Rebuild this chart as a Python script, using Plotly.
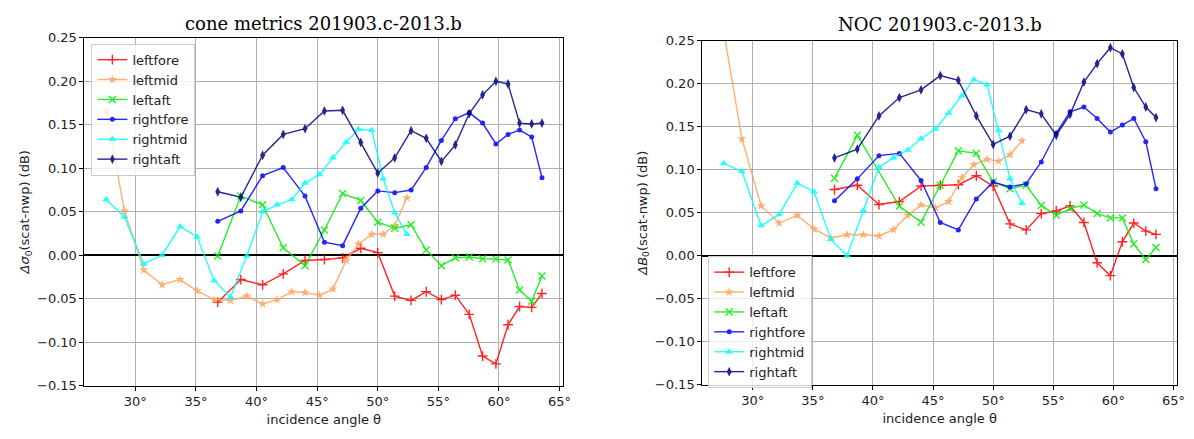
import plotly.graph_objects as go

# Incidence-angle bins (degrees): mid beams and fore/aft beams
mid_theta = [27.6, 29.1, 30.7, 32.2, 33.7, 35.1, 36.5, 37.85, 39.2, 40.5, 41.7,
             42.9, 44.0, 45.2, 46.3, 47.4, 48.4, 49.5, 50.45, 51.4, 52.4]
fa_theta = [36.8, 38.7, 40.5, 42.2, 44.0, 45.6, 47.1, 48.6, 50.0, 51.4, 52.75,
            54.0, 55.25, 56.4, 57.55, 58.65, 59.75, 60.75, 61.7, 62.7, 63.55]

# x tick positions and labels
theta_ticks = [30, 35, 40, 45, 50, 55, 60, 65]
theta_labels = ["30°", "35°", "40°", "45°", "50°", "55°", "60°", "65°"]

# cone metrics: delta sigma0 (scat - nwp), dB
cone_leftfore = [-0.054, -0.028, -0.034, -0.0215, -0.006, -0.005, -0.003, 0.008, 0.003, -0.047, -0.052,
                 -0.042, -0.051, -0.046, -0.068, -0.116, -0.125, -0.080, -0.059, -0.060, -0.044]
cone_leftmid = [0.166, 0.051, -0.017, -0.034, -0.028, -0.041, -0.051, -0.052, -0.047, -0.056, -0.051,
                -0.042, -0.043, -0.046, -0.039, -0.006, 0.013, 0.024, 0.024, 0.034, 0.066]
cone_leftaft = [-0.001, 0.068, 0.058, 0.0085, -0.012, 0.029, 0.071, 0.063, 0.038, 0.031, 0.035,
                0.006, -0.012, -0.003, -0.002, -0.004, -0.0045, -0.0055, -0.040, -0.053, -0.024]
cone_rightfore = [0.039, 0.051, 0.0915, 0.1008, 0.068, 0.015, 0.011, 0.054, 0.074, 0.072, 0.075,
                  0.101, 0.132, 0.157, 0.164, 0.152, 0.128, 0.139, 0.144, 0.136, 0.089]
cone_rightmid = [0.064, 0.044, -0.010, 0.000, 0.033, 0.021, -0.029, -0.048, -0.001, 0.050, 0.058,
                 0.064, 0.083, 0.093, 0.112, 0.130, 0.145, 0.144, 0.088, 0.049, 0.024]
cone_rightaft = [0.073, 0.0667, 0.115, 0.139, 0.1456, 0.166, 0.1667, 0.1297, 0.0944, 0.112, 0.1433,
                 0.1345, 0.108, 0.127, 0.163, 0.1845, 0.200, 0.197, 0.152, 0.151, 0.152]

# NOC: delta B0 (scat - nwp), dB
noc_leftfore = [0.077, 0.082, 0.0595, 0.063, 0.081, 0.082, 0.0826, 0.093, 0.081, 0.037, 0.030,
                0.049, 0.052, 0.058, 0.0387, -0.0082, -0.0232, 0.0162, 0.038, 0.0286, 0.0248]
noc_leftmid = [0.26, 0.136, 0.058, 0.038, 0.047, 0.031, 0.0207, 0.0244, 0.0244, 0.023, 0.0304,
               0.047, 0.059, 0.0556, 0.063, 0.091, 0.106, 0.112, 0.110, 0.1175, 0.1337]
noc_leftaft = [0.090, 0.140, None, 0.0574, 0.039, 0.082, 0.122, 0.119, 0.086, 0.078, 0.082,
               0.0585, 0.047, 0.0548, 0.059, 0.049, 0.044, 0.044, 0.0135, -0.0045, 0.0095]
noc_rightfore = [0.0638, 0.0894, 0.1164, 0.119, 0.0875, 0.0387, 0.030, 0.066, 0.0856, 0.080, 0.0838,
                 0.109, 0.1427, 0.1675, 0.173, 0.1596, 0.1438, 0.152, 0.1596, 0.1326, 0.078]
noc_rightmid = [0.1074, 0.098, 0.035, 0.048, 0.0845, 0.0743, 0.019, 0.000, 0.0526, 0.103, 0.114,
                0.123, 0.136, 0.1475, 0.166, 0.186, 0.205, 0.199, 0.1457, 0.0894, 0.061]
noc_rightaft = [0.1137, 0.124, 0.1626, 0.184, 0.193, 0.2095, 0.204, 0.1626, 0.1295, 0.139, 0.170,
                0.165, 0.140, 0.1645, 0.202, 0.2234, 0.242, 0.2347, 0.1956, 0.173, 0.1607]

beam_names = ["leftfore", "leftmid", "leftaft", "rightfore", "rightmid", "rightaft"]
beam_theta = [fa_theta, mid_theta, fa_theta, fa_theta, mid_theta, fa_theta]
beam_colors = ["#ff0000", "#ffa35a", "#00ee00", "#0000ff", "#00ffff", "#000080"]
beam_symbols = ["cross-thin", "star", "x-thin", "circle", "triangle-up", "diamond-tall"]
beam_sizes = [7, 7, 7, 5, 7, 7]

cone_series = [cone_leftfore, cone_leftmid, cone_leftaft, cone_rightfore, cone_rightmid, cone_rightaft]
noc_series = [noc_leftfore, noc_leftmid, noc_leftaft, noc_rightfore, noc_rightmid, noc_rightaft]

W, H = 1194, 439
fig = go.Figure()

for series, xa, ya, leg in [(cone_series, "x", "y", "legend"),
                            (noc_series, "x2", "y2", "legend2")]:
    for name, th, vals, col, sym, sz in zip(beam_names, beam_theta, series,
                                            beam_colors, beam_symbols, beam_sizes):
        thin = sym.endswith("-thin")
        fig.add_trace(go.Scatter(
            x=th, y=vals, name=name, mode="lines+markers",
            xaxis=xa, yaxis=ya, legend=leg, connectgaps=True, opacity=0.85,
            line=dict(color=col, width=1.4),
            marker=dict(symbol=sym, size=sz, color=col,
                        line=dict(color=col, width=1.4 if thin else 0)),
        ))


def px_x(p):
    return p / W


def px_y(p):
    return 1 - p / H


axis_font = dict(family="DejaVu Sans", size=13, color="#222222")
common_x = dict(range=[25.8, 65.3], tickmode="array", tickvals=theta_ticks, ticktext=theta_labels,
                showgrid=True, gridcolor="#b0b0b0", gridwidth=1, zeroline=False,
                showline=True, linecolor="black", linewidth=1, mirror=True,
                ticks="outside", ticklen=4, tickcolor="black", tickfont=axis_font,
                title=dict(text="incidence angle θ", font=axis_font, standoff=6))
common_y = dict(range=[-0.15, 0.25], dtick=0.05, tick0=0, tickformat=".2f",
                showgrid=True, gridcolor="#b0b0b0", gridwidth=1,
                zeroline=True, zerolinecolor="black", zerolinewidth=1.6,
                showline=True, linecolor="black", linewidth=1, mirror=True,
                ticks="outside", ticklen=4, tickcolor="black", tickfont=axis_font)

legend_common = dict(bgcolor="rgba(255,255,255,0.8)", bordercolor="#cccccc", borderwidth=1,
                     font=dict(family="DejaVu Sans", size=13, color="#222222"),
                     itemwidth=30, tracegroupgap=0, xanchor="left", yanchor="top")

fig.update_layout(
    width=W, height=H, margin=dict(l=0, r=0, t=0, b=0),
    paper_bgcolor="white", plot_bgcolor="white",
    xaxis=dict(domain=[px_x(85), px_x(567)], anchor="y", **common_x),
    yaxis=dict(domain=[px_y(392), px_y(32)], anchor="x",
               title=dict(text="<i>Δσ</i><sub>0</sub>(scat-nwp) (dB)", font=axis_font, standoff=4),
               **common_y),
    xaxis2=dict(domain=[px_x(707), px_x(1185)], anchor="y2", **common_x),
    yaxis2=dict(domain=[px_y(391), px_y(35)], anchor="x2",
                title=dict(text="<i>ΔB</i><sub>0</sub>(scat-nwp) (dB)", font=axis_font, standoff=4),
                **common_y),
    legend=dict(x=px_x(92), y=px_y(38), **legend_common),
    legend2=dict(x=px_x(713), y=px_y(258), **legend_common),
    annotations=[
        dict(text="cone metrics 201903.c-2013.b", x=(px_x(85) + px_x(567)) / 2, y=px_y(17),
             xref="paper", yref="paper", showarrow=False, xanchor="center", yanchor="middle",
             font=dict(family="DejaVu Serif", size=18, color="black")),
        dict(text="NOC 201903.c-2013.b", x=(px_x(707) + px_x(1185)) / 2, y=px_y(18),
             xref="paper", yref="paper", showarrow=False, xanchor="center", yanchor="middle",
             font=dict(family="DejaVu Serif", size=18, color="black")),
    ],
)

fig.write_html("out.html")
